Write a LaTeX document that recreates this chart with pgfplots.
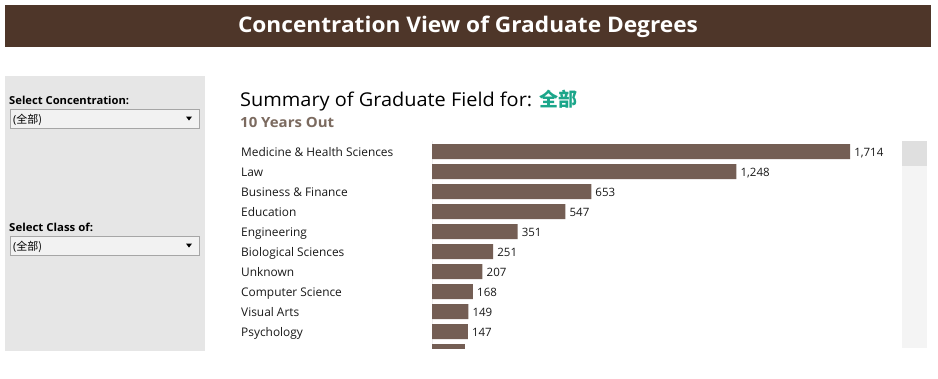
\documentclass[border=0pt]{standalone}
\usepackage{graphicx}
\usepackage{fontspec}
\setmainfont{Open Sans}
\newfontfamily\cjk{Noto Sans CJK SC}
\usepackage{pgfplots}
\pgfplotsset{compat=1.18}
\definecolor{banner}{HTML}{4E3629}
\definecolor{panel}{HTML}{E6E6E6}
\definecolor{barc}{HTML}{745E54}
\definecolor{teal}{HTML}{1BA68A}
\definecolor{subc}{HTML}{7B6A5F}
\begin{document}
\begin{tikzpicture}[x=1pt,y=1pt]
\path[use as bounding box, fill=white] (0,0) rectangle (938,-378);
% banner
\fill[banner] (5,-5) rectangle (931,-47);
\node[anchor=base, inner sep=0pt, text=white, font=\fontsize{21.5}{25}\selectfont\bfseries] at (468,-32) {\resizebox{460pt}{\height}{Concentration View of Graduate Degrees}};
% left panel
\fill[panel] (5,-76) rectangle (205,-351);
\node[anchor=base west, inner sep=0pt, font=\fontsize{11}{13}\selectfont\bfseries] at (9,-104) {\resizebox{120pt}{\height}{Select Concentration:}};
\draw[fill=gray!10, draw=gray!70] (10,-109.5) rectangle (199,-128.5);
\node[anchor=base west, inner sep=0pt, font=\fontsize{11}{13}\selectfont] at (13,-123) {(\cjk 全部\/)};
\fill (186,-116.5) -- (192,-116.5) -- (189,-120.5) -- cycle;
\node[anchor=base west, inner sep=0pt, font=\fontsize{11}{13}\selectfont\bfseries] at (9,-231) {\resizebox{84pt}{\height}{Select Class of:}};
\draw[fill=gray!10, draw=gray!70] (10,-236.5) rectangle (199,-255.5);
\node[anchor=base west, inner sep=0pt, font=\fontsize{11}{13}\selectfont] at (13,-250) {(\cjk 全部\/)};
\fill (186,-243.5) -- (192,-243.5) -- (189,-247.5) -- cycle;
% headings
\node[anchor=base west, inner sep=0pt, font=\fontsize{19}{23}\selectfont] at (240,-106) {\resizebox{292pt}{\height}{Summary of Graduate Field for:}};
\node[anchor=base west, inner sep=0pt, font=\fontsize{19}{23}\selectfont\cjk\bfseries, text=teal] at (539,-106) {全部};
\node[anchor=base west, inner sep=0pt, font=\fontsize{14}{17}\selectfont\bfseries, text=subc] at (240,-127) {\resizebox{94pt}{\height}{10 Years Out}};
% scrollbar
\fill[gray!9] (902,-141) rectangle (927,-348);
\fill[gray!25] (902,-141) rectangle (927,-166);
\begin{axis}[
  at={(432pt,-141pt)}, anchor=north west,
  scale only axis, width=470pt, height=207pt,
  xmin=0, xmax=1927, ymin=-0.525, ymax=9.825,
  y dir=reverse,
  xbar, bar width=15pt, bar shift=0pt,
  axis x line=none, axis y line*=left,
  axis line style={draw=gray!12},
  xtick=\empty,
  ytick={0,...,9},
  yticklabels={Medicine \& Health Sciences, Law, Business \& Finance, Education, Engineering, Biological Sciences, Unknown, Computer Science, Visual Arts, Psychology},
  major tick length=0pt,
  yticklabel style={anchor=west, inner sep=0pt, xshift=-191pt, text height=8pt, text depth=0pt, yshift=-0.5pt, font=\fontsize{11.9}{13}\selectfont, text=black!90},
  /pgf/number format/.cd, 1000 sep={,}, assume math mode=true,
]
\addplot[fill=barc, draw=none, nodes near coords,
  every node near coord/.append style={anchor=west, inner sep=0pt, xshift=4pt, text height=8pt, text depth=0pt, yshift=-0.5pt, font=\fontsize{11.5}{13}\selectfont, text=black!90}]
  coordinates {(1714,0) (1248,1) (653,2) (547,3) (351,4) (251,5) (207,6) (168,7) (149,8) (147,9)};
\addplot[fill=barc, draw=none] coordinates {(135,10)};
\end{axis}
\end{tikzpicture}
\end{document}
